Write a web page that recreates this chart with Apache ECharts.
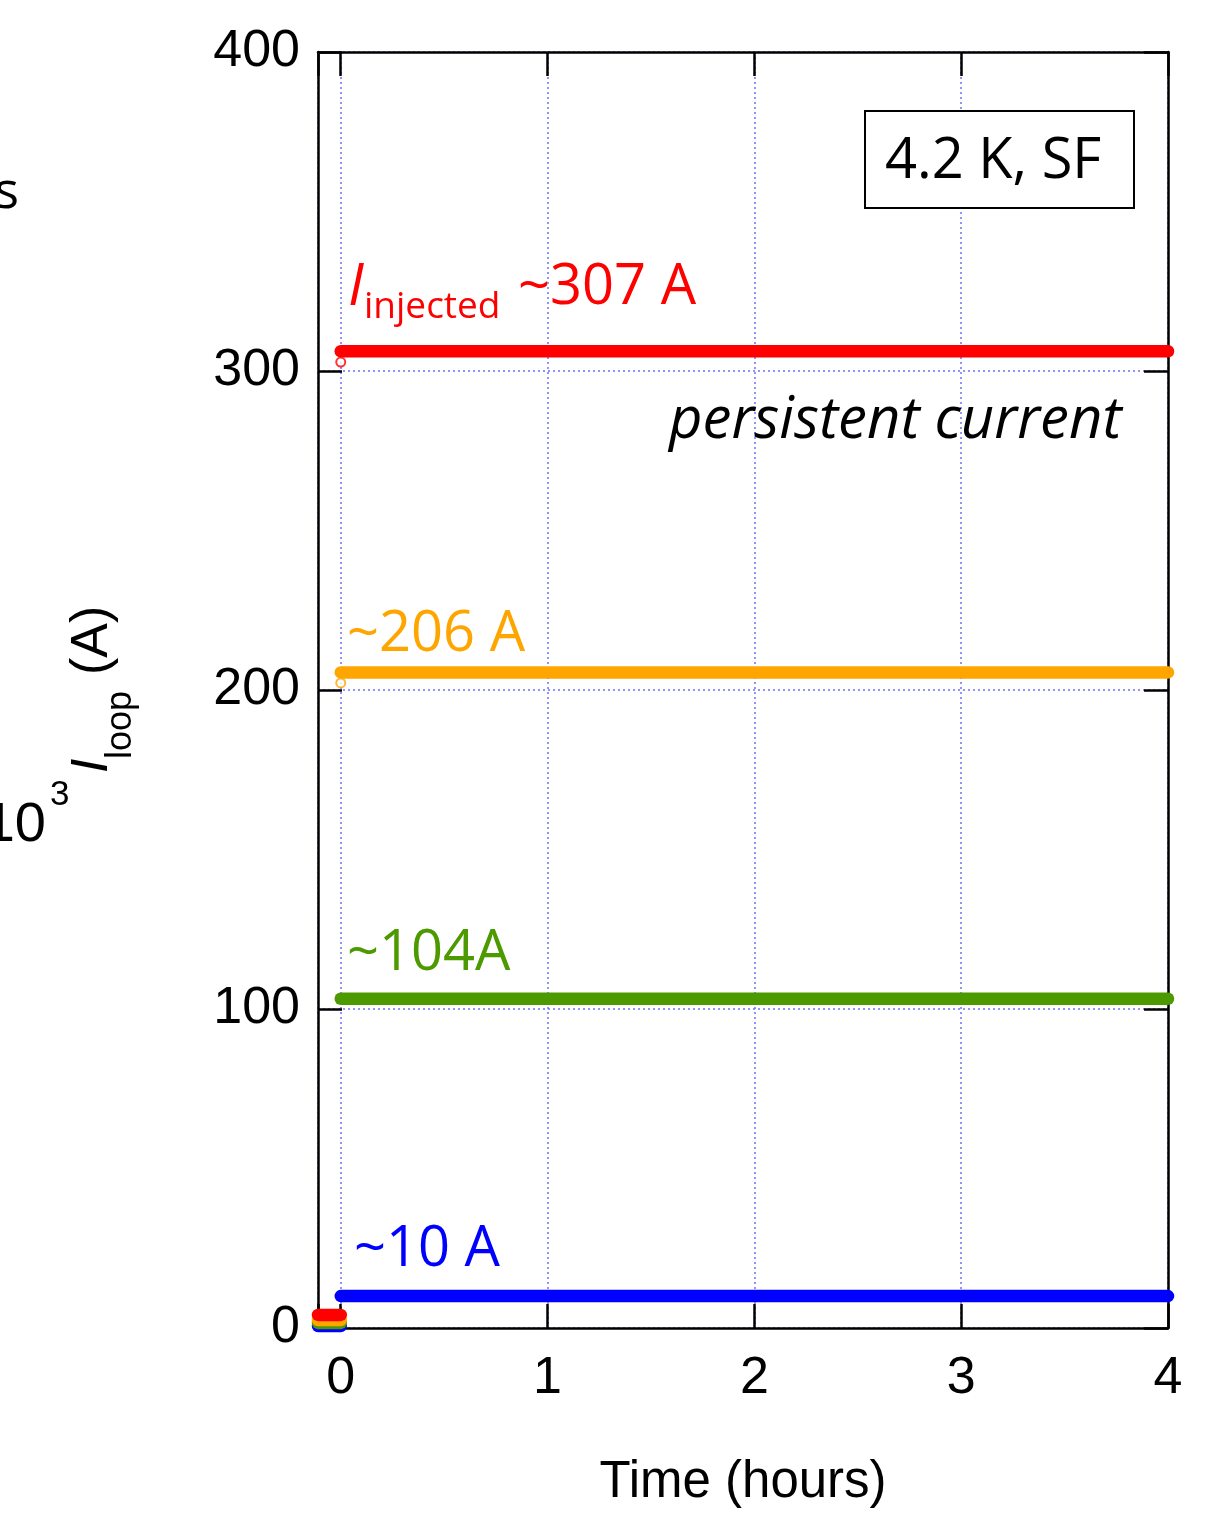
<!DOCTYPE html>
<html>
<head>
<meta charset="utf-8">
<script src="https://cdn.jsdelivr.net/npm/echarts@6/dist/echarts.min.js"></script>
<style>
html,body{margin:0;padding:0;background:#fff;}
#chart{width:1215px;height:1527px;}
</style>
</head>
<body>
<div id="chart"></div>
<script>
// ---- data ----
const xTickLabels = ['0', '1', '2', '3', '4'];
const yTickLabels = ['0', '100', '200', '300', '400'];
const plateauTime = [0, 4];          // hours
const stubTime = [-0.11, 0.0];       // hours (charging before t=0)
const redPlateau = [306.2, 306.2];
const orangePlateau = [205.5, 205.5];
const greenPlateau = [103.2, 103.2];
const bluePlateau = [10.0, 10.0];
const redStub = [4.1, 4.1];
const orangeStub = [2.5, 2.5];
const greenStub = [1.6, 1.6];
const blueStub = [0.6, 0.6];
const rampTime = [0, 0];
const rampValues = [302.8, 202.2];
const labels307 = '~307 A', labels206 = '~206 A', labels104 = '~104A', labels10 = '~10 A';

const RED = '#ff0000', ORANGE = '#ffa500', GREEN = '#4c9a00', BLUE = '#0000ff';
const pair = (t, v) => t.map((x, i) => [x, v[i]]);

const chart = echarts.init(document.getElementById('chart'), null, {renderer: 'canvas'});

function lineSeries(t, v, color, z) {
  return {
    type: 'line', data: pair(t, v), showSymbol: false, symbol: 'none',
    clip: false, z: z || 3, silent: true,
    lineStyle: {color: color, width: 12.5, cap: 'round'}
  };
}

const axisCommon = {
  axisLine: {show: true, onZero: false, lineStyle: {color: '#000', width: 2.5}},
  axisTick: {show: true, inside: true, length: 24, lineStyle: {color: '#000', width: 2.5}},
};

const gridLine = {show: true, lineStyle: {color: '#7070ff', width: 1.5, type: [2, 3]}};
const labelFont = {fontFamily: 'Liberation Sans', fontSize: 52, color: '#000'};
const annoFont = 'Open Sans';

const option = {
  backgroundColor: '#fff',
  animation: false,
  grid: {left: 318, top: 52, width: 850, height: 1276, containLabel: false, outerBoundsMode: 'none'},
  xAxis: [
    Object.assign({
      type: 'value', min: -0.11, max: 4, position: 'bottom',
      splitLine: gridLine,
      axisLabel: Object.assign({margin: 25, formatter: v => {
        const i = xTickLabels.indexOf(String(v));
        return i >= 0 ? xTickLabels[i] : '';
      }}, labelFont),
      name: 'Time (hours)', nameLocation: 'middle', nameGap: 129,
      nameTextStyle: {fontFamily: 'Liberation Sans', fontSize: 51, color: '#000'}
    }, axisCommon),
    Object.assign({
      type: 'value', min: -0.11, max: 4, position: 'top',
      splitLine: {show: false}, axisLabel: {show: false}
    }, axisCommon)
  ],
  yAxis: [
    Object.assign({
      type: 'value', min: 0, max: 400, interval: 100, position: 'left',
      splitLine: gridLine,
      axisLabel: Object.assign({margin: 18, formatter: v => {
        const i = yTickLabels.indexOf(String(v));
        return i >= 0 ? yTickLabels[i] : '';
      }}, labelFont)
    }, axisCommon),
    Object.assign({
      type: 'value', min: 0, max: 400, interval: 100, position: 'right',
      splitLine: {show: false}, axisLabel: {show: false}
    }, axisCommon)
  ],
  series: [
    lineSeries(stubTime, blueStub, BLUE, 3),
    lineSeries(stubTime, greenStub, GREEN, 3),
    lineSeries(stubTime, orangeStub, ORANGE, 3),
    lineSeries(stubTime, redStub, RED, 3),
    lineSeries(plateauTime, redPlateau, RED, 3),
    lineSeries(plateauTime, orangePlateau, ORANGE, 3),
    lineSeries(plateauTime, greenPlateau, GREEN, 3),
    lineSeries(plateauTime, bluePlateau, BLUE, 3),
    {
      type: 'scatter', data: [[rampTime[0], rampValues[0]]], symbol: 'emptyCircle',
      symbolSize: 9, clip: false, z: 4, silent: true,
      itemStyle: {color: RED, borderColor: RED, borderWidth: 1.5}
    },
    {
      type: 'scatter', data: [[rampTime[1], rampValues[1]]], symbol: 'emptyCircle',
      symbolSize: 9, clip: false, z: 4, silent: true,
      itemStyle: {color: ORANGE, borderColor: ORANGE, borderWidth: 1.5}
    }
  ],
  graphic: [
    // condition box
    {type: 'rect', shape: {x: 865, y: 111, width: 269, height: 97}, z: 10,
     style: {fill: '#fff', stroke: '#000', lineWidth: 2}},
    {type: 'text', x: 885, y: 162, z: 11,
     style: {text: '4.2 K, SF', fontFamily: annoFont, fontSize: 56, fill: '#000', align: 'left', verticalAlign: 'middle'}},
    // annotations
    {type: 'text', x: 348, y: 288, z: 11,
     style: {text: 'I', fontFamily: annoFont, fontStyle: 'italic', fontSize: 58, fill: RED, align: 'left', verticalAlign: 'middle'}},
    {type: 'text', x: 364, y: 307, z: 11,
     style: {text: 'injected', fontFamily: annoFont, fontSize: 37, fill: RED, align: 'left', verticalAlign: 'middle'}},
    {type: 'text', x: 518, y: 288, z: 11,
     style: {text: labels307, fontFamily: annoFont, fontSize: 56, fill: RED, align: 'left', verticalAlign: 'middle'}},
    {type: 'text', x: 669, y: 421, z: 11,
     style: {text: 'persistent current', fontFamily: annoFont, fontStyle: 'italic', fontSize: 58, fill: '#000', align: 'left', verticalAlign: 'middle'}},
    {type: 'text', x: 347, y: 635, z: 11,
     style: {text: labels206, fontFamily: annoFont, fontSize: 56, fill: ORANGE, align: 'left', verticalAlign: 'middle'}},
    {type: 'text', x: 347, y: 954, z: 11,
     style: {text: labels104, fontFamily: annoFont, fontSize: 56, fill: GREEN, align: 'left', verticalAlign: 'middle'}},
    {type: 'text', x: 354, y: 1250, z: 11,
     style: {text: labels10, fontFamily: annoFont, fontSize: 56, fill: BLUE, align: 'left', verticalAlign: 'middle'}},
    // y axis title (rotated)
    {type: 'group', x: 119, y: 773, rotation: Math.PI / 2, z: 11, children: [
      {type: 'text', x: 0, y: 0, style: {text: 'I', fontFamily: 'Liberation Sans', fontStyle: 'italic', fontSize: 52, fill: '#000', align: 'left', verticalAlign: 'bottom'}},
      {type: 'text', x: 14, y: 20, style: {text: 'loop', fontFamily: 'Liberation Sans', fontSize: 36, fill: '#000', align: 'left', verticalAlign: 'bottom'}},
      {type: 'text', x: 98, y: 0, style: {text: '(A)', fontFamily: 'Liberation Sans', fontSize: 52, fill: '#000', align: 'left', verticalAlign: 'bottom'}}
    ]},
    // cut-off text from neighbouring panel
    {type: 'text', x: 19, y: 193, z: 11,
     style: {text: 'rs', fontFamily: annoFont, fontSize: 52, fill: '#000', align: 'right', verticalAlign: 'middle'}},
    {type: 'text', x: 46, y: 826, z: 11,
     style: {text: '10', fontFamily: 'Liberation Sans', fontSize: 56, fill: '#000', align: 'right', verticalAlign: 'middle'}},
    {type: 'text', x: 50, y: 795, z: 11,
     style: {text: '3', fontFamily: 'Liberation Sans', fontSize: 35, fill: '#000', align: 'left', verticalAlign: 'middle'}}
  ]
};
chart.setOption(option);
</script>
</body>
</html>
